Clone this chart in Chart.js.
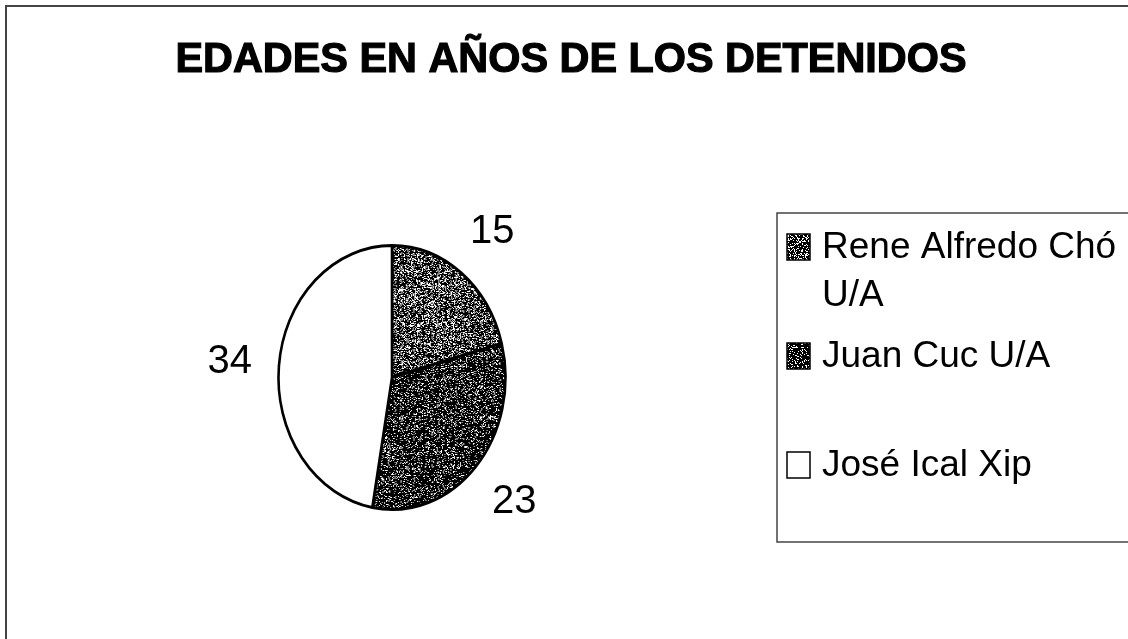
<!DOCTYPE html>
<html>
<head>
<meta charset="utf-8">
<script src="https://cdn.jsdelivr.net/npm/chart.js@4"></script>
<style>
body{margin:0;background:#fff;}
#wrap{width:1128px;height:639px;position:relative;}
</style>
</head>
<body>
<div id="wrap"><canvas id="chart" width="1128" height="639"></canvas></div>
<script>
const titulo='EDADES EN AÑOS DE LOS DETENIDOS';
const nombres=['Rene Alfredo Chó U/A','Juan Cuc U/A','José Ical Xip'];
const edades=[15,23,34];
const densidad=[0.66,0.8,0];

//stipple fill like the scanned print
function trama(d){
    const c=document.createElement('canvas');
    c.width=c.height=128;
    const g=c.getContext('2d');
    g.fillStyle='#fff';
    g.fillRect(0,0,128,128);
    if(d==0) return g.createPattern(c,'repeat');
    g.fillStyle='#000';
    for(let y=0;y<128;y++){
        for(let x=0;x<128;x++){
            let h=(x*374761393+y*668265263)|0;
            h=Math.imul(h^(h>>>13),1274126177);
            h=(h^(h>>>16))>>>0;
            if(h/4294967296<d) g.fillRect(x,y,1,1);
        }
    }
    return g.createPattern(c,'repeat');
}
const fondos=densidad.map(trama);

const escalaX=0.86;

const elipse={
    id:'elipse',
    beforeDatasetsDraw(chart){
        const a=chart.chartArea,ctx=chart.ctx;
        const cx=(a.left+a.right)/2;
        ctx.save();
        ctx.translate(cx,0);
        ctx.scale(escalaX,1);
        ctx.translate(-cx,0);
    },
    afterDatasetsDraw(chart){
        chart.ctx.restore();
    }
};

const extras={
    id:'extras',
    afterDraw(chart){
        const ctx=chart.ctx;
        ctx.save();
        //frame
        ctx.strokeStyle='#444';
        ctx.lineWidth=2;
        ctx.beginPath();
        ctx.moveTo(6,639);ctx.lineTo(6,6);ctx.lineTo(1128,6);
        ctx.stroke();
        //title
        ctx.fillStyle='#000';
        ctx.strokeStyle='#000';
        ctx.lineWidth=1.2;
        ctx.font='bold 43px "Liberation Sans", Arial, sans-serif';
        ctx.textAlign='center';
        ctx.textBaseline='alphabetic';
        ctx.fillText(titulo,571,72,791);
        ctx.strokeText(titulo,571,72,791);
        //value labels
        ctx.font='40px "Liberation Sans", Arial, sans-serif';
        ctx.textBaseline='middle';
        const arcs=chart.getDatasetMeta(0).data;
        arcs.forEach((arc,i)=>{
            const p=arc.getProps(['x','y','startAngle','endAngle','outerRadius'],true);
            const m=(p.startAngle+p.endAngle)/2;
            const dx=Math.cos(m),dy=Math.sin(m);
            const t=String(edades[i]);
            const w=ctx.measureText(t).width;
            const off=26+Math.abs(dx)*w/2+Math.abs(dy)*14.5;
            const px=p.x+p.outerRadius*escalaX*dx+dx*off;
            const py=p.y+p.outerRadius*dy+dy*off;
            ctx.fillText(t,px,py);
        });
        //legend
        ctx.strokeStyle='#444';
        ctx.lineWidth=1.5;
        ctx.strokeRect(777,213,400,329);
        ctx.font='37px "Liberation Sans", Arial, sans-serif';
        ctx.textAlign='left';
        ctx.textBaseline='alphabetic';
        nombres.forEach((n,i)=>{
            const y=247+i*109;
            ctx.fillStyle=fondos[i];
            ctx.fillRect(787,y-13,23,26);
            ctx.strokeStyle='#000';
            ctx.lineWidth=1.5;
            ctx.strokeRect(787,y-13,23,26);
            ctx.fillStyle='#000';
            //wrap long names
            const pal=n.split(' ');
            let linea='',ly=y+11;
            pal.forEach(w=>{
                const prueba=linea?linea+' '+w:w;
                if(ctx.measureText(prueba).width>300&&linea){
                    ctx.fillText(linea,822,ly);
                    linea=w;ly+=48;
                }else linea=prueba;
            });
            ctx.fillText(linea,822,ly);
        });
        ctx.restore();
    }
};

const chart=document.querySelector('#chart').getContext('2d');
new Chart(chart,{
    type:'pie',
    data:{
        labels:nombres,
        datasets:[{
            data:edades,
            backgroundColor:fondos,
            borderColor:'#000',
            borderWidth:3
        }]
    },
    options:{
        responsive:false,
        animation:false,
        layout:{padding:{left:258,top:244,right:602,bottom:128}},
        plugins:{legend:{display:false},title:{display:false},tooltip:{enabled:false}}
    },
    plugins:[elipse,extras]
});
</script>
</body>
</html>
